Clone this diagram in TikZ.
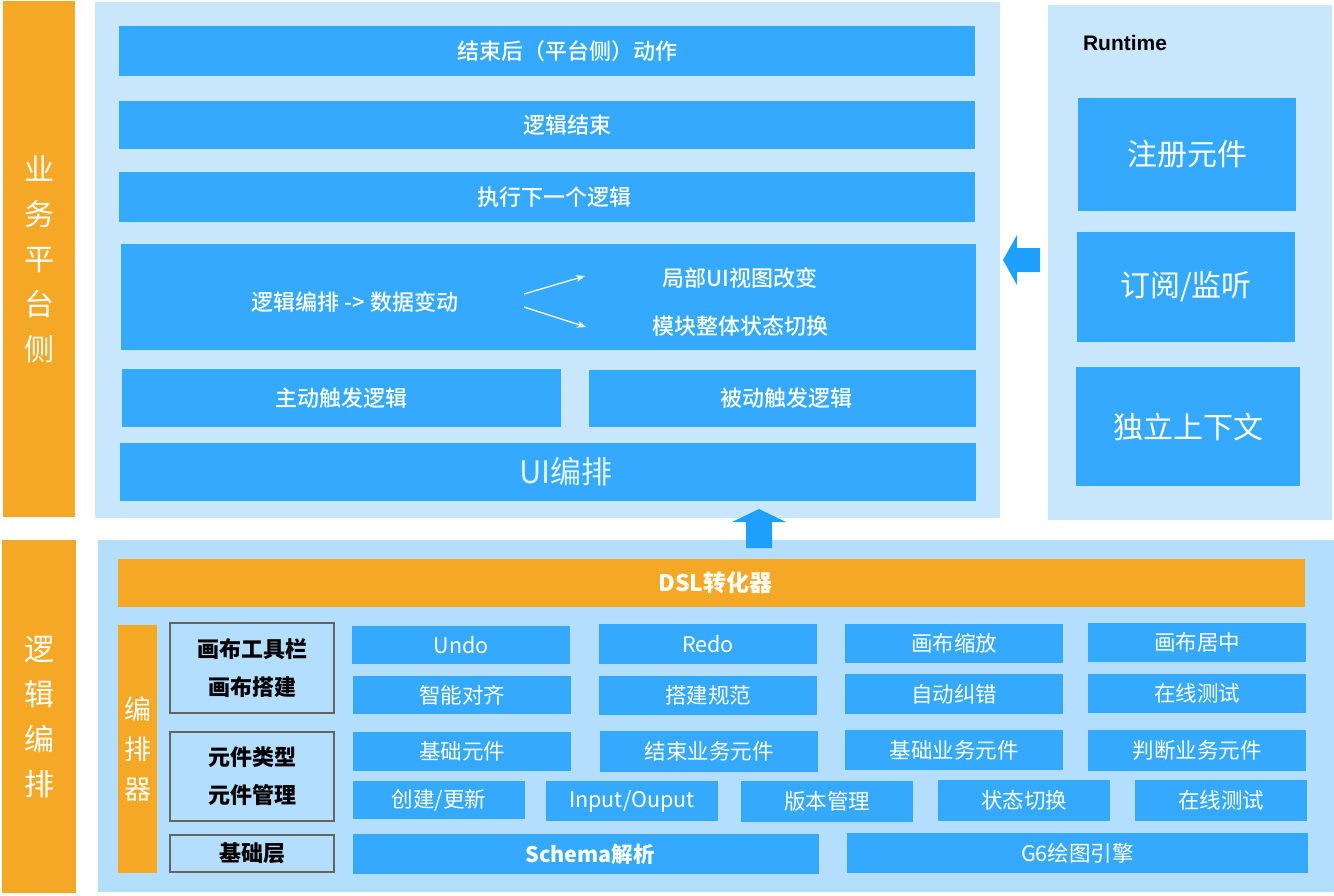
\documentclass[tikz,border=0pt]{standalone}
\usepackage{fontspec}
\setmainfont{Noto Sans CJK SC}
\newfontfamily\med{Noto Sans CJK SC Medium}
\newfontfamily\latinb{Liberation Sans}
\usetikzlibrary{arrows.meta}
\definecolor{bl}{RGB}{53,169,254}
\definecolor{org}{RGB}{245,167,38}
\definecolor{ptop}{RGB}{200,231,252}
\definecolor{pbot}{RGB}{180,222,253}
\definecolor{arr}{RGB}{29,160,255}
\definecolor{brd}{RGB}{100,100,100}
\definecolor{uitxt}{RGB}{228,242,255}
\newcommand\rbox[7]{\node[#6,minimum width={(#4)-(#2)},minimum height={(#5)-(#3)}] (#1) at ({((#2)+(#4))/2},{((#3)+(#5))/2}) {#7};}
\newcommand\fs[1]{\fontsize{#1}{#1}\selectfont}
\begin{document}
\begin{tikzpicture}[x=1pt,y=-1pt,
  every node/.style={inner sep=0pt,outer sep=0pt},
  panel/.style={fill=ptop},
  panelb/.style={fill=pbot},
  orangebar/.style={fill=org,text=white,align=center},
  bluebar/.style={fill=bl,text=white,font=\fs{21.5}},
  bluebold/.style={fill=bl,text=white,font=\med\fs{22}},
  blueheavy/.style={fill=bl,text=white,font=\bfseries\fs{21.5}},
  graybox/.style={draw=brd,line width=1.5pt,fill=pbot,text=black,font=\bfseries\fontsize{22}{38}\selectfont,align=center},
  rtbox/.style={fill=bl,text=white,font=\fs{30}},
  lbl/.style={text=white,font=\med\fs{22}},
  blockarrow/.style={fill=arr},
  thinarrow/.style={draw=white,line width=1.3pt,-{Stealth[length=9pt,width=7pt]}}
]
\useasboundingbox (0,0) rectangle (1334,895);

% side labels
\rbox{sidetop}{3}{1}{75}{517}{orangebar,font=\fontsize{30}{45}\selectfont}{业\\务\\平\\台\\侧}
\rbox{sidebot}{2}{540}{76}{893}{orangebar,font=\fontsize{30}{45}\selectfont}{逻\\辑\\编\\排}

% panels
\rbox{toppanel}{95}{2}{1000}{518}{panel}{}
\rbox{rtpanel}{1048}{5}{1332}{520}{panel}{}
\rbox{botpanel}{98}{540}{1334}{892}{panelb}{}

% top panel bars
\rbox{b1}{119}{26}{975}{76}{bluebold}{\hspace*{40pt}结束后（平台侧）动作}
\rbox{b2}{119}{101}{975}{149}{bluebold}{\hspace*{40pt}逻辑结束}
\rbox{b3}{119}{172}{975}{222}{bluebold}{\hspace*{14pt}执行下一个逻辑}
\rbox{b4}{121}{244}{976}{350}{bluebold}{}
\node[lbl] (src) at (355,302) {逻辑编排 -> 数据变动};
\node[lbl] (dst1) at (740,278) {局部UI视图改变};
\node[lbl] (dst2) at (740,326) {模块整体状态切换};
\coordinate (f1s) at (524,294);
\coordinate (f1e) at (585,276);
\coordinate (f2s) at (524,307);
\coordinate (f2e) at (586,327);
\draw[thinarrow] (f1s) -- (f1e);
\draw[thinarrow] (f2s) -- (f2e);
\rbox{b5}{122}{369}{561}{427}{bluebold}{主动触发逻辑}
\rbox{b6}{589}{370}{976}{427}{bluebold}{\hspace*{8pt}被动触发逻辑}
\rbox{b7}{120}{443}{976}{501}{fill=bl,text=uitxt,font=\fs{31}}{\hspace*{36pt}UI编排}

% runtime
\node[anchor=west,text=black,font=\latinb\bfseries\fs{21}] (rtlabel) at (1083,43) {Runtime};
\rbox{r1}{1078}{98}{1296}{211}{rtbox}{注册元件}
\rbox{r2}{1077}{232}{1295}{342}{rtbox}{订阅/监听}
\rbox{r3}{1076}{367}{1300}{486}{rtbox}{独立上下文}

% block arrows
\fill[blockarrow] (1003,260) -- (1017,235) -- (1017,248) -- (1040,248) -- (1040,272) -- (1017,272) -- (1017,285) -- cycle;
\fill[blockarrow] (759,509) -- (786,522) -- (772,522) -- (772,548) -- (746,548) -- (746,522) -- (732,522) -- cycle;

% bottom panel
\rbox{dsl}{118}{559}{1305}{607}{orangebar,font=\bfseries\fs{23}}{\hspace*{8pt}DSL转化器}
\rbox{editor}{118}{625}{157}{873}{orangebar,font=\fontsize{27}{40}\selectfont}{编\\排\\器}
\rbox{g1}{170}{623}{334}{713}{graybox}{画布工具栏\\画布搭建}
\rbox{g2}{170}{732}{334}{821}{graybox}{元件类型\\元件管理}
\rbox{g3}{170}{835}{334}{872}{graybox}{基础层}

\rbox{u1}{352}{626}{570}{664}{bluebar}{Undo}
\rbox{u2}{599}{624}{817}{664}{bluebar}{Redo}
\rbox{u3}{845}{624}{1063}{663}{bluebar}{画布缩放}
\rbox{u4}{1088}{623}{1306}{662}{bluebar}{画布居中}
\rbox{v1}{353}{676}{571}{714}{bluebar}{智能对齐}
\rbox{v2}{599}{676}{817}{715}{bluebar}{搭建规范}
\rbox{v3}{845}{674}{1063}{714}{bluebar}{自动纠错}
\rbox{v4}{1088}{674}{1306}{713}{bluebar}{在线测试}
\rbox{w1}{353}{732}{571}{771}{bluebar}{基础元件}
\rbox{w2}{600}{731}{818}{772}{bluebar}{结束业务元件}
\rbox{w3}{845}{730}{1063}{770}{bluebar}{基础业务元件}
\rbox{w4}{1088}{730}{1306}{771}{bluebar}{判断业务元件}
\rbox{x1}{353}{781}{525}{819}{bluebar}{创建/更新}
\rbox{x2}{546}{781}{718}{821}{bluebar}{Input/Ouput}
\rbox{x3}{741}{781}{913}{822}{bluebar}{版本管理}
\rbox{x4}{938}{780}{1110}{821}{bluebar}{状态切换}
\rbox{x5}{1135}{780}{1307}{821}{bluebar}{在线测试}
\rbox{s1}{353}{834}{819}{874}{blueheavy}{\hspace*{8pt}Schema解析}
\rbox{s2}{847}{833}{1308}{873}{bluebar}{G6绘图引擎}
\end{tikzpicture}
\end{document}
